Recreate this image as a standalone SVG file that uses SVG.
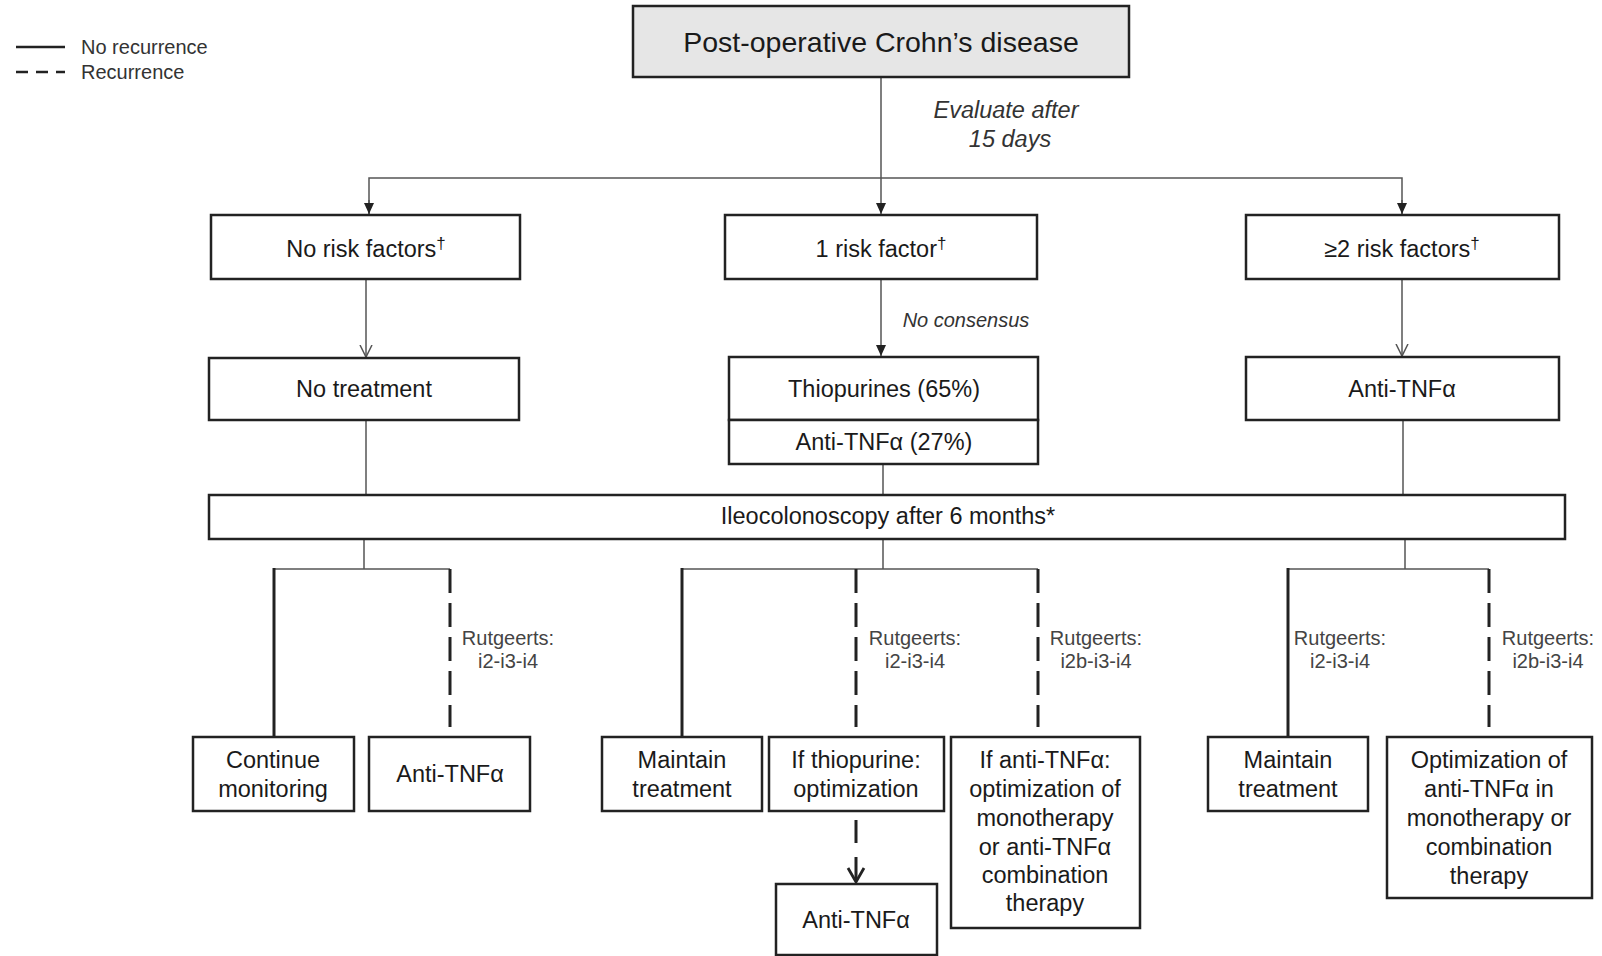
<svg xmlns="http://www.w3.org/2000/svg" width="1602" height="956" viewBox="0 0 1602 956">
<defs>
<style>
text{font-family:"Liberation Sans",Arial,Helvetica,sans-serif;fill:#1a1a1a}
.bx{fill:#fff;stroke:#222;stroke-width:2.5}
.top{fill:#e6e6e6;stroke:#222;stroke-width:2.5}
.t{font-size:23.5px;text-anchor:middle}
.title{font-size:28.5px;text-anchor:middle}
.sup{font-size:17px}
.thin{stroke:#555;stroke-width:1.5;fill:none}
.solid{stroke:#222;stroke-width:3;fill:none}
.dash{stroke:#222;stroke-width:3;fill:none;stroke-dasharray:24 10}
.lbl{font-size:20px;text-anchor:middle;fill:#444}
.it{font-style:italic;text-anchor:middle;fill:#333}
.leg{font-size:20px;fill:#333}
</style>
<marker id="af" markerUnits="userSpaceOnUse" markerWidth="12" markerHeight="12" refX="11" refY="6" orient="auto">
<path d="M0,1 L11,6 L0,11 z" fill="#222"/>
</marker>
<marker id="av" markerUnits="userSpaceOnUse" markerWidth="14" markerHeight="14" refX="12" refY="7" orient="auto">
<path d="M0,1 L12,7 L0,13" fill="none" stroke="#555" stroke-width="1.5"/>
</marker>
<marker id="avb" markerUnits="userSpaceOnUse" markerWidth="18" markerHeight="20" refX="15" refY="10" orient="auto">
<path d="M1,2 L15,10 L1,18" fill="none" stroke="#222" stroke-width="2.8"/>
</marker>
</defs>
<rect width="1602" height="956" fill="#fff"/>

<g id="legend">
<line x1="16" y1="47" x2="65" y2="47" stroke="#222" stroke-width="2.5"/>
<text class="leg" x="81" y="54">No recurrence</text>
<line x1="16" y1="72" x2="65" y2="72" stroke="#222" stroke-width="2.5" stroke-dasharray="12 8"/>
<text class="leg" x="81" y="79">Recurrence</text>
</g>

<g id="connectors">
<line class="thin" x1="881" y1="77" x2="881" y2="214" marker-end="url(#af)"/>
<polyline class="thin" points="369,214 369,178 1402,178 1402,214" />
<line class="thin" x1="369" y1="200" x2="369" y2="214" marker-end="url(#af)"/>
<line class="thin" x1="1402" y1="200" x2="1402" y2="214" marker-end="url(#af)"/>
<line class="thin" x1="366" y1="279" x2="366" y2="357" marker-end="url(#av)"/>
<line class="thin" x1="881" y1="279" x2="881" y2="356" marker-end="url(#af)"/>
<line class="thin" x1="1402" y1="279" x2="1402" y2="356" marker-end="url(#av)"/>
<line class="thin" x1="366" y1="420" x2="366" y2="495"/>
<line class="thin" x1="883" y1="464" x2="883" y2="495"/>
<line class="thin" x1="1403" y1="420" x2="1403" y2="495"/>
<line class="thin" x1="364" y1="539" x2="364" y2="569"/>
<line class="thin" x1="883" y1="539" x2="883" y2="569"/>
<line class="thin" x1="1405" y1="539" x2="1405" y2="569"/>
<line class="thin" x1="274" y1="569" x2="450" y2="569"/>
<line class="thin" x1="682" y1="569" x2="1038" y2="569"/>
<line class="thin" x1="1288" y1="569" x2="1489" y2="569"/>
<line class="solid" x1="274" y1="568" x2="274" y2="737"/>
<line class="dash" x1="450" y1="569" x2="450" y2="727"/>
<line class="solid" x1="682" y1="568" x2="682" y2="737"/>
<line class="dash" x1="856" y1="569" x2="856" y2="727"/>
<line class="dash" x1="1038" y1="569" x2="1038" y2="727"/>
<line class="solid" x1="1288" y1="568" x2="1288" y2="737"/>
<line class="dash" x1="1489" y1="569" x2="1489" y2="727"/>
<line x1="856" y1="820" x2="856" y2="882" stroke="#222" stroke-width="3" stroke-dasharray="23 14" marker-end="url(#avb)"/>
<text class="it" x="1006" y="118" font-size="23.5">Evaluate after</text>
<text class="it" x="1010" y="147" font-size="23.5">15 days</text>
<text class="it" x="966" y="327" font-size="20">No consensus</text>
<text class="lbl" x="508" y="645">Rutgeerts:</text>
<text class="lbl" x="508" y="668">i2-i3-i4</text>
<text class="lbl" x="915" y="645">Rutgeerts:</text>
<text class="lbl" x="915" y="668">i2-i3-i4</text>
<text class="lbl" x="1096" y="645">Rutgeerts:</text>
<text class="lbl" x="1096" y="668">i2b-i3-i4</text>
<text class="lbl" x="1340" y="645">Rutgeerts:</text>
<text class="lbl" x="1340" y="668">i2-i3-i4</text>
<text class="lbl" x="1548" y="645">Rutgeerts:</text>
<text class="lbl" x="1548" y="668">i2b-i3-i4</text>
</g>

<g id="n-root">
<rect class="top" x="633" y="6" width="496" height="71"/>
<text class="title" x="881" y="52">Post-operative Crohn’s disease</text>
</g>

<g id="n-norisk">
<rect class="bx" x="211" y="215" width="309" height="64"/>
<text class="t" x="366" y="257">No risk factors<tspan class="sup" dy="-8">†</tspan></text>
</g>
<g id="n-onerisk">
<rect class="bx" x="725" y="215" width="312" height="64"/>
<text class="t" x="881" y="257">1 risk factor<tspan class="sup" dy="-8">†</tspan></text>
</g>
<g id="n-tworisk">
<rect class="bx" x="1246" y="215" width="313" height="64"/>
<text class="t" x="1402" y="257">≥2 risk factors<tspan class="sup" dy="-8">†</tspan></text>
</g>

<g id="n-notreat">
<rect class="bx" x="209" y="358" width="310" height="62"/>
<text class="t" x="364" y="397">No treatment</text>
</g>
<g id="n-thio">
<rect class="bx" x="729" y="357" width="309" height="63"/>
<text class="t" x="884" y="397">Thiopurines (65%)</text>
</g>
<g id="n-anti27">
<rect class="bx" x="729" y="420" width="309" height="44"/>
<text class="t" x="884" y="450">Anti-TNFα (27%)</text>
</g>
<g id="n-antiright">
<rect class="bx" x="1246" y="357" width="313" height="63"/>
<text class="t" x="1402" y="397">Anti-TNFα</text>
</g>

<g id="n-ileo">
<rect class="bx" x="209" y="495" width="1356" height="44"/>
<text class="t" x="888" y="524">Ileocolonoscopy after 6 months*</text>
</g>

<g id="n-continue">
<rect class="bx" x="193" y="737" width="161" height="74"/>
<text class="t" x="273" y="768">Continue</text>
<text class="t" x="273" y="797">monitoring</text>
</g>
<g id="n-anti-left">
<rect class="bx" x="369" y="737" width="161" height="74"/>
<text class="t" x="450" y="782">Anti-TNFα</text>
</g>
<g id="n-maintain-mid">
<rect class="bx" x="602" y="737" width="160" height="74"/>
<text class="t" x="682" y="768">Maintain</text>
<text class="t" x="682" y="797">treatment</text>
</g>
<g id="n-ifthio">
<rect class="bx" x="769" y="737" width="175" height="74"/>
<text class="t" x="856" y="768">If thiopurine:</text>
<text class="t" x="856" y="797">optimization</text>
</g>
<g id="n-ifanti">
<rect class="bx" x="951" y="737" width="189" height="191"/>
<text class="t" x="1045" y="768">If anti-TNFα:</text>
<text class="t" x="1045" y="797">optimization of</text>
<text class="t" x="1045" y="826">monotherapy</text>
<text class="t" x="1045" y="855">or anti-TNFα</text>
<text class="t" x="1045" y="883">combination</text>
<text class="t" x="1045" y="911">therapy</text>
</g>
<g id="n-anti-bottom">
<rect class="bx" x="776" y="884" width="161" height="71"/>
<text class="t" x="856" y="928">Anti-TNFα</text>
</g>
<g id="n-maintain-right">
<rect class="bx" x="1208" y="737" width="160" height="74"/>
<text class="t" x="1288" y="768">Maintain</text>
<text class="t" x="1288" y="797">treatment</text>
</g>
<g id="n-optim">
<rect class="bx" x="1387" y="737" width="205" height="161"/>
<text class="t" x="1489" y="768">Optimization of</text>
<text class="t" x="1489" y="797">anti-TNFα in</text>
<text class="t" x="1489" y="826">monotherapy or</text>
<text class="t" x="1489" y="855">combination</text>
<text class="t" x="1489" y="884">therapy</text>
</g>
</svg>
